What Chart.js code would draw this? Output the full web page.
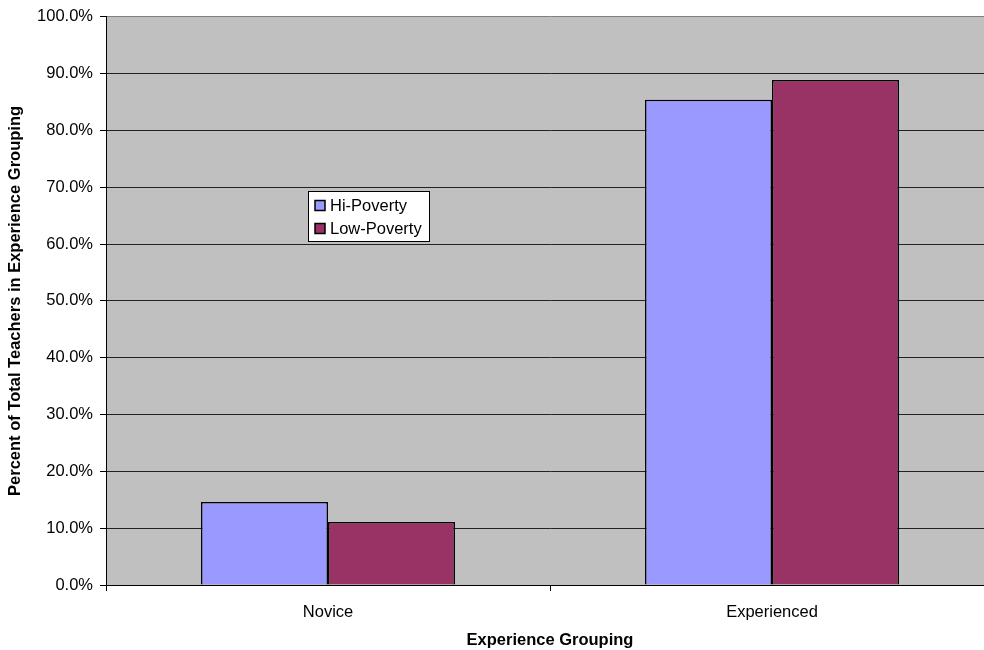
<!DOCTYPE html>
<html>
<head>
<meta charset="utf-8">
<script src="https://cdn.jsdelivr.net/npm/chart.js@4.4.1/dist/chart.umd.min.js"></script>
<style>
  html, body { margin: 0; padding: 0; background: #ffffff; overflow: hidden; width: 984px; height: 650px; }
  #wrap { position: relative; width: 1000px; height: 650px; }
</style>
</head>
<body>
<div id="wrap"><canvas id="chart"></canvas></div>
<script>
// Share of teachers by experience grouping, high- vs low-poverty schools
const categories = ['Novice', 'Experienced'];
const hiPoverty = [14.6, 85.4];
const lowPoverty = [11.1, 88.9];
const seriesNames = ['Hi-Poverty', 'Low-Poverty'];
const yTitle = 'Percent of Total Teachers in Experience Grouping';
const xTitle = 'Experience Grouping';

const FONT = 'Arial, "Liberation Sans", Helvetica, sans-serif';

// Grey plot background
const plotBackground = {
  id: 'plotBackground',
  beforeDraw(chart) {
    const { ctx, chartArea: a } = chart;
    ctx.save();
    ctx.fillStyle = '#C0C0C0';
    ctx.fillRect(a.left, a.top, a.right - a.left, a.bottom - a.top);
    ctx.restore();
  }
};

// Boxed legend floating inside the plot
const boxedLegend = {
  id: 'boxedLegend',
  afterDraw(chart) {
    const { ctx } = chart;
    const x = 308.5, y = 191.5, w = 121, h = 50;
    ctx.save();
    ctx.fillStyle = '#ffffff';
    ctx.fillRect(x, y, w, h);
    ctx.strokeStyle = '#000000';
    ctx.lineWidth = 1;
    ctx.strokeRect(x, y, w, h);
    ctx.font = '16.5px ' + FONT;
    ctx.textBaseline = 'middle';
    ctx.textAlign = 'left';
    chart.data.datasets.forEach((ds, i) => {
      const cy = 205.5 + i * 23;
      ctx.fillStyle = ds.backgroundColor;
      ctx.fillRect(315, cy - 5, 10, 10);
      ctx.lineWidth = 1.5;
      ctx.strokeStyle = '#000000';
      ctx.strokeRect(315, cy - 5, 10, 10);
      ctx.fillStyle = '#000000';
      ctx.fillText(ds.label, 330, cy + 1);
    });
    ctx.restore();
  }
};

new Chart(document.getElementById('chart'), {
  type: 'bar',
  data: {
    labels: categories,
    datasets: [
      { label: seriesNames[0], data: hiPoverty, backgroundColor: '#9999FF', borderColor: '#000000', borderWidth: 1.5 },
      { label: seriesNames[1], data: lowPoverty, backgroundColor: '#993366', borderColor: '#000000', borderWidth: 1.5 }
    ]
  },
  options: {
    responsive: true,
    maintainAspectRatio: false,
    animation: false,
    devicePixelRatio: 1,
    layout: { padding: { top: 15, right: 6, bottom: 0, left: 0 } },
    datasets: { bar: { categoryPercentage: 0.572, barPercentage: 1.0 } },
    plugins: {
      legend: { display: false },
      tooltip: { enabled: false }
    },
    scales: {
      x: {
        grid: { offset: true, drawOnChartArea: false, drawTicks: true, tickLength: 6, color: '#000000' },
        border: { display: true, color: '#000000', width: 1 },
        ticks: { color: '#000000', padding: 12, font: { family: FONT, size: 16.5 } },
        title: { display: true, text: xTitle, color: '#000000', padding: { top: 0, bottom: 0 }, font: { family: FONT, size: 16.5, weight: 'bold' } },
        afterFit(scale) { scale.height = 65; }
      },
      y: {
        min: 0,
        max: 100,
        grid: {
          color: (c) => (c.tick && c.tick.value === 100 ? '#808080' : '#222222'),
          tickColor: '#000000',
          tickLength: 6,
          lineWidth: 1
        },
        border: { display: true, color: '#000000', width: 1 },
        ticks: {
          stepSize: 10,
          color: '#000000',
          padding: 7,
          font: { family: FONT, size: 16.5 },
          callback: (v) => Number(v).toFixed(1) + '%'
        },
        title: { display: true, text: yTitle, color: '#000000', padding: { top: 6, bottom: 0 }, font: { family: FONT, size: 16.5, weight: 'bold' } },
        afterFit(scale) { scale.width = 106; }
      }
    }
  },
  plugins: [plotBackground, boxedLegend]
});
</script>
</body>
</html>
